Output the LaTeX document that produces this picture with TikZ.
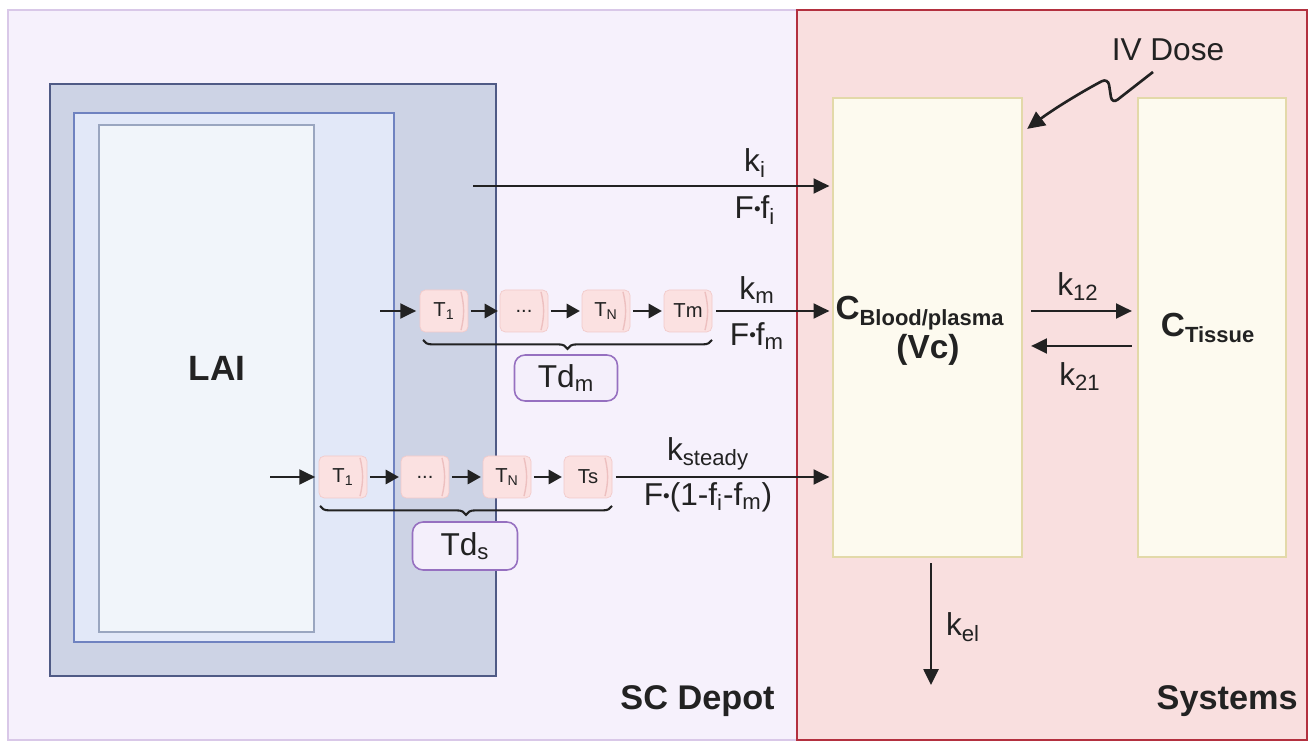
\documentclass[tikz,border=0pt]{standalone}
\usepackage{fontspec}
\usepackage{graphicx}
\setmainfont{Liberation Sans}
\usetikzlibrary{arrows.meta,decorations.pathreplacing,calc}
\definecolor{depotfill}{HTML}{F6F1FC}
\definecolor{depotline}{HTML}{D9C8E8}
\definecolor{sysfill}{HTML}{F9DFDF}
\definecolor{sysline}{HTML}{B3303F}
\definecolor{laiA}{HTML}{CDD3E5}
\definecolor{laiAline}{HTML}{4F5A85}
\definecolor{laiB}{HTML}{E2E8F8}
\definecolor{laiBline}{HTML}{6F82C0}
\definecolor{laiC}{HTML}{F1F5FA}
\definecolor{laiCline}{HTML}{9AA6C0}
\definecolor{cmpfill}{HTML}{FDFAEF}
\definecolor{cmpline}{HTML}{E3D9A9}
\definecolor{tfill}{HTML}{FBE1E1}
\definecolor{tline}{HTML}{F2CACA}
\definecolor{tside}{HTML}{EDC0C0}
\definecolor{tdfill}{HTML}{F4EFFB}
\definecolor{tdline}{HTML}{9670C0}
\definecolor{ink}{HTML}{222222}
\newcommand{\sbs}[1]{\textsubscript{#1}}
\newcommand{\bul}{\raisebox{0.1em}{\scalebox{0.6}{•}}}
\begin{document}
\begin{tikzpicture}[x=0.02cm,y=-0.02cm,
  arr/.style={draw=ink,line width=1.3pt,-{Triangle[length=9pt,width=8.5pt]}},
  sarr/.style={draw=ink,line width=1.5pt,-{Triangle[length=7.5pt,width=8pt]},shorten <=1.5pt,shorten >=1pt},
  tbox/.style={draw=tline,fill=tfill,rounded corners=3pt,minimum width=0.96cm,minimum height=0.84cm,inner sep=0pt,font=\fontsize{11.5}{12}\selectfont,text=ink,
    path picture={\draw[tside,line width=0.8pt] ([xshift=-4pt,yshift=-1pt]path picture bounding box.north east) .. controls +(2pt,-8pt) and +(2pt,8pt) .. ([xshift=-4pt,yshift=1pt]path picture bounding box.south east);}},
  tdbox/.style={draw=tdline,fill=tdfill,line width=0.9pt,rounded corners=6pt,minimum width=2.06cm,minimum height=0.92cm,inner sep=0pt,font=\fontsize{18}{20}\selectfont,text=ink},
  cmp/.style={draw=cmpline,fill=cmpfill,line width=1.3pt,minimum height=9.18cm,inner sep=0pt},
  lbl/.style={font=\fontsize{18}{20}\selectfont,text=ink,inner sep=0pt},
  title/.style={font=\fontsize{19.5}{22}\selectfont\bfseries,text=ink,inner sep=0pt},
  brc/.style={draw=ink,line width=1.2pt,decorate,decoration={brace,mirror,amplitude=5pt}}
]
\useasboundingbox (0,0) rectangle (1309,742);
\fill[white] (0,0) rectangle (1309,742);
% panels
\draw[depotline,fill=depotfill,line width=1.5pt] (8,10) rectangle (797,740);
\draw[sysline,fill=sysfill,line width=1.5pt] (797,10) -- (1307,10) -- (1307,740) -- (797,740) -- cycle;
\draw[sysline,line width=1.5pt] (797,10) -- (797,740);
\node[title,anchor=south east] (scdepot) at (775,717) {SC Depot};
\node[title,anchor=south east] (systems) at (1298,717) {Systems};
% LAI boxes
\draw[laiAline,fill=laiA,line width=1.2pt] (50,84) rectangle (496,676);
\draw[laiBline,fill=laiB,line width=1.2pt] (74,113) rectangle (394,642);
\draw[laiCline,fill=laiC,line width=1.2pt] (99,125) rectangle (314,632);
\node[title,font=\fontsize{20}{22}\selectfont\bfseries] (lai) at (217,368) {LAI};
% compartments
\node[cmp,minimum width=3.78cm] (blood) at (927.5,327.5) {};
\node[cmp,minimum width=2.96cm] (tissue) at (1212,327.5) {};
\node[lbl,font=\fontsize{19}{21}\selectfont\bfseries] (cblood) at (920,313) {C\textsubscript{\fontsize{12.5}{14}\selectfont Blood/plasma}};
\node[lbl,font=\fontsize{19}{21}\selectfont\bfseries] (vc) at (928,350) {(Vc)};
\node[lbl,font=\fontsize{19}{21}\selectfont\bfseries] (ctissue) at (1208,328) {C\textsubscript{\fontsize{12.5}{14}\selectfont Tissue}};
% k12 / k21
\coordinate (y12) at (0,311);
\coordinate (y21) at (0,346);
\draw[arr,shorten <=0.16cm,shorten >=0.1cm] (blood.east |- y12) -- (tissue.west |- y12);
\draw[arr,shorten <=0.1cm,shorten >=0.16cm] (tissue.west |- y21) -- (blood.east |- y21);
\node[lbl] (k12) at (1078,287) {k\sbs{12}};
\node[lbl] (k21) at (1080,377) {k\sbs{21}};
% kel
\coordinate (kelend) at (931,685);
\draw[arr,shorten <=0.1cm] (blood.south -| kelend) -- (kelend);
\node[lbl] (kel) at (963,627) {k\sbs{el}};
% IV dose
\node[lbl] (iv) at (1168,50) {IV Dose};
\draw[arr,line width=1.5pt,-{Triangle[length=10pt,width=9.5pt]},rounded corners=4pt] (1153,72) -- (1112,104) -- (1108,78) .. controls (1085,90) and (1055,108) .. ($(blood.north east)+(4,32)$);
% ki row
\coordinate (ki0) at (473,186);
\draw[arr,shorten >=0.05cm] (ki0) -- (blood.west |- ki0);
\node[lbl] (ki) at (755,163) {k\sbs{i}};
\node[lbl] (ffi) at (755,210) {F\bul f\sbs{i}};
% km row
\coordinate (km0) at (380,311);
\node[tbox] (m1) at (444,311) {T\sbs{1}};
\node[tbox] (m2) at (524,311) {...};
\node[tbox] (m3) at (606,311) {T\sbs{N}};
\node[tbox] (m4) at (688,311) {Tm};
\draw[arr,shorten >=2pt] (km0) -- (m1.west);
\draw[sarr] (m1) -- (m2);
\draw[sarr] (m2) -- (m3);
\draw[sarr] (m3) -- (m4);
\draw[arr,shorten <=2pt,shorten >=0.05cm] (m4.east) -- (blood.west |- m4);
\node[lbl] (km) at (757,290) {k\sbs{m}};
\node[lbl] (ffm) at (757,336) {F\bul f\sbs{m}};
\draw[brc] (423,340) -- (712,340);
\node[tdbox] (tdm) at (566,378) {Td\sbs{m}};
% ks row
\coordinate (ks0) at (270,477);
\node[tbox] (s1) at (343,477) {T\sbs{1}};
\node[tbox] (s2) at (425,477) {...};
\node[tbox] (s3) at (507,477) {T\sbs{N}};
\node[tbox] (s4) at (588,477) {Ts};
\draw[arr,shorten >=2pt] (ks0) -- (s1.west);
\draw[sarr] (s1) -- (s2);
\draw[sarr] (s2) -- (s3);
\draw[sarr] (s3) -- (s4);
\draw[arr,shorten <=2pt,shorten >=0.05cm] (s4.east) -- (blood.west |- s4);
\node[lbl] (ks) at (708,454) {k\sbs{steady}};
\node[lbl] (ffs) at (708,497) {F\bul(1-f\sbs{i}-f\sbs{m})};
\draw[brc] (320,506) -- (612,506);
\node[tdbox,minimum width=2.1cm,minimum height=0.96cm] (tds) at (465,546) {Td\sbs{s}};
\end{tikzpicture}
\end{document}
